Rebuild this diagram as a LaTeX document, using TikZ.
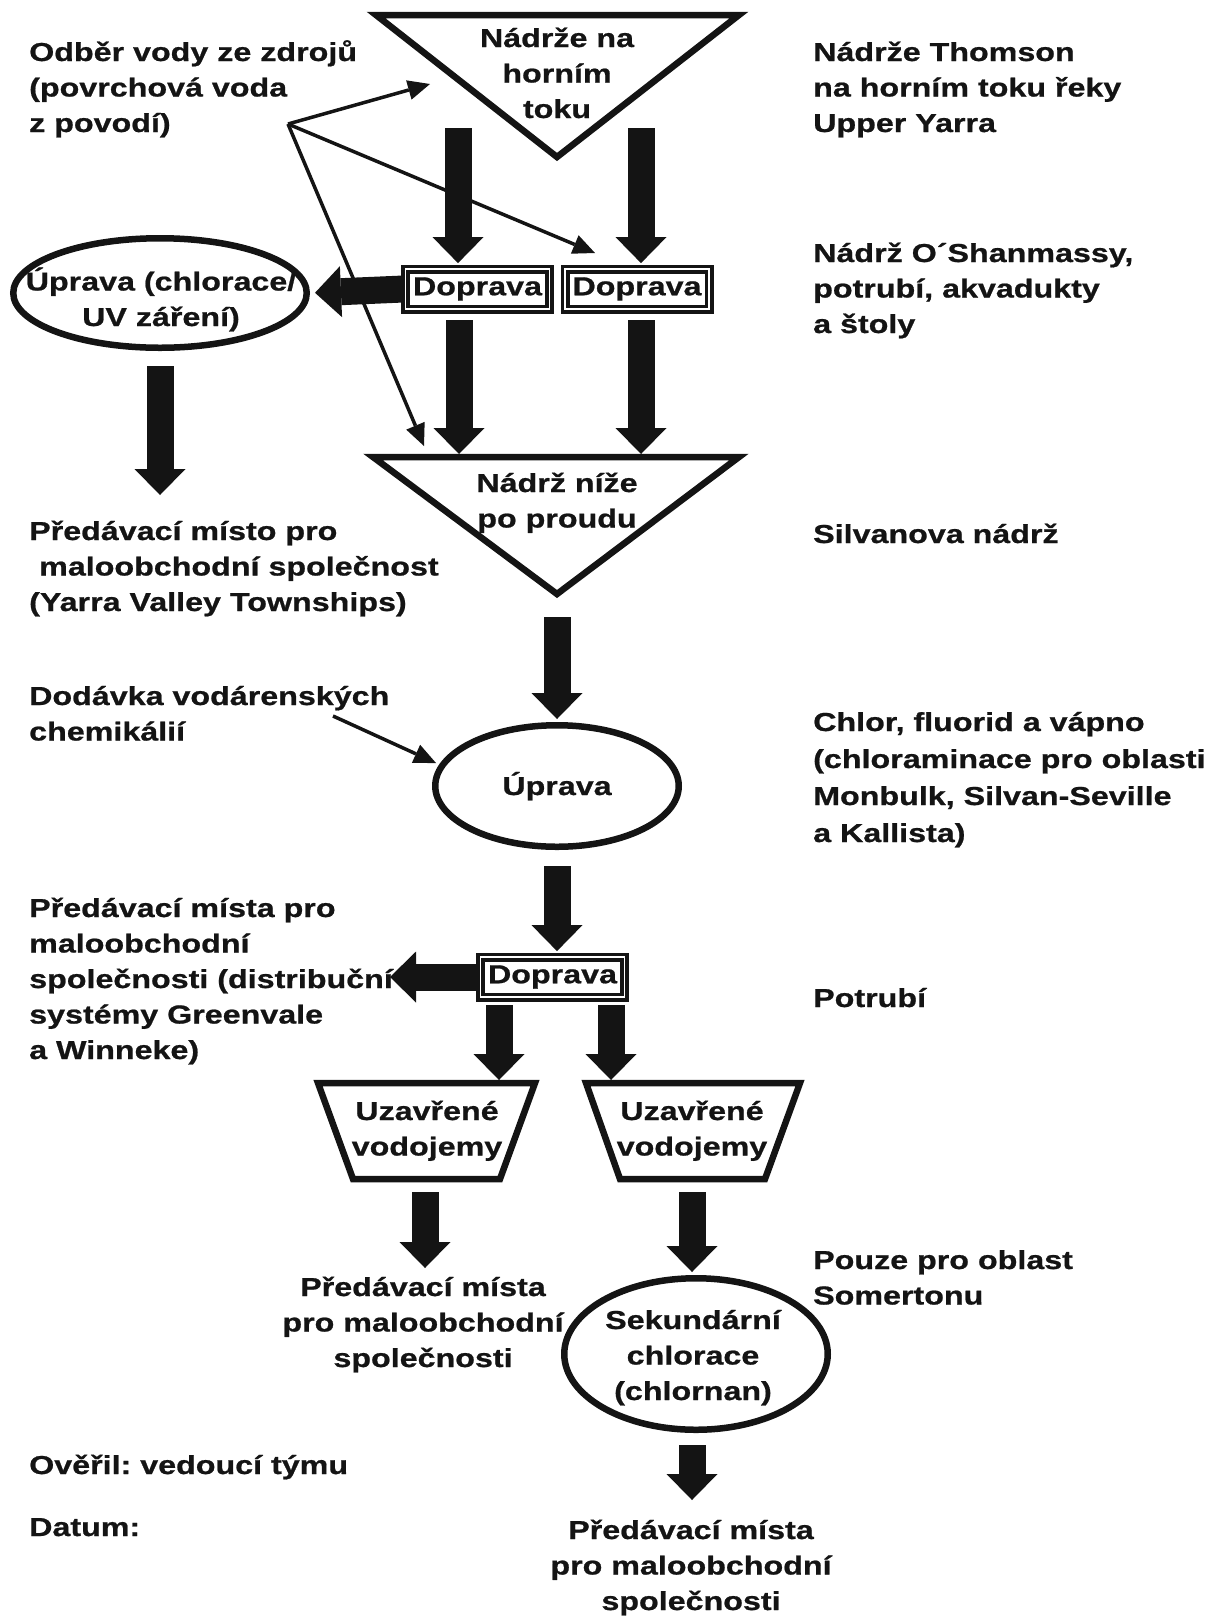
\documentclass[tikz,border=0pt]{standalone}
\usepackage{fontspec}
\setmainfont{Liberation Sans}[FakeStretch=1.24, FakeBold=0.8]
\usetikzlibrary{arrows.meta,shapes.geometric}
\definecolor{ink}{gray}{0.08}
\frenchspacing

\begin{document}
\begin{tikzpicture}[x=1pt,y=-1pt,
  every node/.style={font=\fontsize{26}{35.5}\selectfont\bfseries, text=ink, inner sep=0pt},
  lbl/.style={anchor=base west, align=left},
  clbl/.style={anchor=base, align=center},
  outline/.style={draw=ink, line width=6.5pt, line join=miter},
  oval/.style={ellipse, draw=ink, line width=6.5pt},
  transport/.style={draw=ink, line width=3.8pt, double=white, double distance=1.4pt,
                    minimum width=144pt, minimum height=40pt},
  flow/.style={draw=ink, line width=27pt,
               -{Triangle[length=26pt 0 0, width=51pt 0 0, line width=0pt 0 0]}},
  feed/.style={draw=ink, line width=3.5pt,
               -{Triangle[length=22pt 0 0, width=20pt 0 0, line width=0pt 0 0]}},
]
\useasboundingbox (0,0) rectangle (1213,1618);

% ---- storage reservoirs (triangles) ----
\coordinate (tA) at (376,15);
\coordinate (tB) at (739,15);
\coordinate (tC) at (557,157);
\draw[outline] (tA) -- (tB) -- (tC) -- cycle;
\node[clbl] (upTxt) at (557,118) {Nádrže na\\horním\\toku};

\coordinate (bA) at (373,457);
\coordinate (bB) at (739,457);
\coordinate (bC) at (557,594);
\draw[outline] (bA) -- (bB) -- (bC) -- cycle;
\node[clbl] (dnTxt) at (557,527.5) {Nádrž níže\\po proudu};

% ---- transport boxes ----
\node[transport] (dL) at (477.5,289) {Doprava};
\node[transport] (dR) at (637,289) {Doprava};
\node[transport] (dB) at (552.5,977) {Doprava};

% ---- treatment ellipses ----
\node[oval, minimum width=293.5pt, minimum height=109.5pt] (uvL) at (160,293) {};
\node[clbl] (uvTxt) at (161,326) {Úprava (chlorace/\\UV záření)};

\node[oval, minimum width=243.5pt, minimum height=121.5pt] (upr) at (557,786) {};
\node[clbl] (uprTxt) at (557,795) {Úprava};

\node[oval, minimum width=263.5pt, minimum height=151.5pt] (sek) at (696,1354) {};
\node[clbl] (sekTxt) at (693,1400) {Sekundární\\chlorace\\(chlornan)};

% ---- closed tanks (trapezoids) ----
\coordinate (lqA) at (318,1083);
\coordinate (lqB) at (535,1083);
\coordinate (lqC) at (500,1179);
\coordinate (lqD) at (353,1179);
\draw[outline] (lqA) -- (lqB) -- (lqC) -- (lqD) -- cycle;
\node[clbl] (lqTxt) at (427,1155.5) {Uzavřené\\vodojemy};

\coordinate (rqA) at (586,1083);
\coordinate (rqB) at (800,1083);
\coordinate (rqC) at (765,1179);
\coordinate (rqD) at (620,1179);
\draw[outline] (rqA) -- (rqB) -- (rqC) -- (rqD) -- cycle;
\node[clbl] (rqTxt) at (692,1155.5) {Uzavřené\\vodojemy};

% ---- left column ----
\node[lbl] (src) at (29,132) {Odběr vody ze zdrojů\\(povrchová voda\\z povodí)};
\node[lbl] (outA) at (29,611) {Předávací místo pro\\\hspace*{10pt}maloobchodní společnost\\(Yarra Valley Townships)};
\node[lbl] (chem) at (29,740.5) {Dodávka vodárenských\\chemikálií};
\node[lbl] (outB) at (29,1059) {Předávací místa pro\\maloobchodní\\společnosti (distribuční\\systémy Greenvale\\a Winneke)};
\node[lbl] (sign) at (29,1474) {Ověřil: vedoucí týmu};
\node[lbl] (date) at (29,1536) {Datum:};

% ---- right column ----
\node[lbl] (rc1) at (813,132) {Nádrže Thomson\\na horním toku řeky\\Upper Yarra};
\node[lbl] (rc2) at (813,333) {Nádrž O´Shanmassy,\\potrubí, akvadukty\\a štoly};
\node[lbl] (rc3) at (813,543) {Silvanova nádrž};
\node[lbl, font=\fontsize{26}{37}\selectfont\bfseries] (rc4) at (813,842)
  {Chlor, fluorid a vápno\\(chloraminace pro oblasti\\Monbulk, Silvan-Seville\\a Kallista)};
\node[lbl] (rc5) at (813,1007) {Potrubí};
\node[lbl] (rc6) at (813,1304.5) {Pouze pro oblast\\Somertonu};

% ---- delivery points below tanks ----
\node[clbl] (outC) at (423,1367) {Předávací místa\\pro maloobchodní\\společnosti};
\node[clbl] (outD) at (691,1610) {Předávací místa\\pro maloobchodní\\společnosti};

% ---- main flow arrows ----
\coordinate (f1) at (458,128);
\coordinate (f2) at (641,128);
\draw[flow, shorten >=4pt] (f1) -- (f1 |- dL.north);
\draw[flow, shorten >=4pt] (f2) -- (f2 |- dR.north);

\draw[flow, shorten >=5pt] (dL.west) -- (uvL.east);

\coordinate (f4) at (459,320);
\coordinate (f5) at (641,320);
\draw[flow, shorten >=3pt] (f4) -- (f4 |- bA);
\draw[flow, shorten >=3pt] (f5) -- (f5 |- bA);

\coordinate (f6) at (160,366);
\coordinate (e6) at (160,495);
\draw[flow] (f6) -- (e6);

\coordinate (f7) at (557,617);
\draw[flow, shorten >=3pt] (f7) -- (upr.north);

\coordinate (f8) at (557,866);
\draw[flow, shorten >=4pt] (f8) -- (f8 |- dB.north);

\coordinate (e9) at (390,977);
\draw[flow] (dB.west) -- (e9);

\coordinate (f10) at (499,1005);
\coordinate (f11) at (611,1005);
\draw[flow, shorten >=3pt] (f10) -- (f10 |- lqA);
\draw[flow, shorten >=3pt] (f11) -- (f11 |- rqA);

\coordinate (f12) at (425,1192);
\coordinate (e12) at (425,1268);
\draw[flow] (f12) -- (e12);

\coordinate (f13) at (692,1192);
\draw[flow, shorten >=3pt] (f13) -- (f13 |- sek.north);

\coordinate (f14) at (692,1445);
\coordinate (e14) at (692,1500);
\draw[flow] (f14) -- (e14);

% ---- source water and chemical feed lines ----
\coordinate (hub) at (288,124);
\coordinate (h1) at (430,84);
\coordinate (h2) at (595,253);
\coordinate (h3) at (424,446);
\draw[feed] (hub) -- (h1);
\draw[feed] (hub) -- (h2);
\draw[feed] (hub) -- (h3);

\coordinate (c0) at (333,716);
\coordinate (c1) at (436,763);
\draw[feed] (c0) -- (c1);
\end{tikzpicture}
\end{document}
